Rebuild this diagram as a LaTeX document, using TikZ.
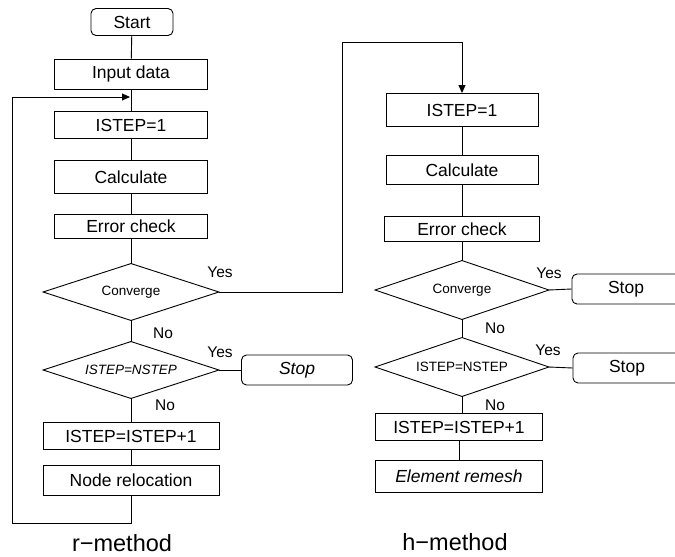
\documentclass[tikz,border=0pt]{standalone}
\usepackage{fontspec}
\setmainfont{Liberation Sans}
\usetikzlibrary{arrows.meta}
\begin{document}
\begin{tikzpicture}[x=1pt,y=-1pt,
  line width=0.9pt,
  box/.style={draw,rectangle,inner sep=0pt,font=\fontsize{17.5}{19}\selectfont},
  rbox/.style={box,rounded corners=5pt},
  dec/.style={rectangle,inner sep=0pt,minimum width=175pt,minimum height=56pt,font=\fontsize{13.5}{15}\selectfont},
  lab/.style={font=\fontsize{15.5}{17}\selectfont,inner sep=0pt},
  ttl/.style={font=\fontsize{23.5}{26}\selectfont,inner sep=0pt,anchor=base},
  arr/.style={-{Triangle[length=8pt,width=7pt]}}
]
\useasboundingbox (0,0) rectangle (675,557);
% ---------- left: r-method ----------
\node[rbox,minimum width=82pt,minimum height=27pt] (start) at (132,22) {Start};
\node[box,minimum width=153pt,minimum height=30pt] (inL) at (131,74) {Input data};
\node[box,minimum width=153pt,minimum height=27pt] (s1L) at (131,125) {ISTEP=1};
\node[box,minimum width=153pt,minimum height=33pt] (calcL) at (131,177) {Calculate};
\node[box,minimum width=153pt,minimum height=24pt] (errL) at (131,226) {Error check};
\node[dec] (convL) at (131,292) {Converge};
\node[dec] (nsL) at (131,370) {\itshape ISTEP=NSTEP};
\draw (convL.north) -- (convL.east) -- (convL.south) -- (convL.west) -- cycle;
\draw (nsL.north) -- (nsL.east) -- (nsL.south) -- (nsL.west) -- cycle;
\node[rbox,minimum width=111pt,minimum height=30pt] (stopL) at (297,370) {\itshape Stop};
\node[box,minimum width=176pt,minimum height=27pt] (incL) at (131,436) {ISTEP=ISTEP+1};
\node[box,minimum width=176pt,minimum height=30pt] (relL) at (131,480) {Node relocation};
\coordinate (jL) at (131,97);
\coordinate (lb) at (131,523);
\coordinate (ll) at (12,523);
\coordinate (lt) at (12,97);
\draw (start) -- (inL);
\draw (inL) -- (s1L);
\draw (s1L) -- (calcL);
\draw (calcL) -- (errL);
\draw (errL) -- (convL.north);
\draw (convL.south) -- (nsL.north);
\draw (nsL.south) -- (incL);
\draw (incL) -- (relL);
\draw (nsL.east) -- (stopL.west);
\draw[arr] (relL.south) -- (lb) -- (ll) -- (lt) -- ([xshift=-1pt]jL);
\node[lab] (yL1) at (220,272) {Yes};
\node[lab] (nL1) at (163,333) {No};
\node[lab] (yL2) at (220,352) {Yes};
\node[lab] (nL2) at (165,405) {No};
\node[ttl] (rm) at (122,551) {r−method};
% ---------- right: h-method ----------
\node[box,minimum width=152pt,minimum height=33pt] (s1R) at (462,110) {ISTEP=1};
\node[box,minimum width=152pt,minimum height=29pt] (calcR) at (462,170) {Calculate};
\node[box,minimum width=155pt,minimum height=25pt] (errR) at (462,229) {Error check};
\node[dec,minimum width=173pt,minimum height=58pt] (convR) at (462,290) {Converge};
\node[dec,minimum width=173pt,minimum height=58pt] (nsR) at (462,367) {ISTEP=NSTEP};
\draw (convR.north) -- (convR.east) -- (convR.south) -- (convR.west) -- cycle;
\draw (nsR.north) -- (nsR.east) -- (nsR.south) -- (nsR.west) -- cycle;
\node[rbox,minimum width=108pt,minimum height=30pt] (stopR1) at (626,289) {Stop};
\node[rbox,minimum width=108pt,minimum height=30pt] (stopR2) at (627,368) {Stop};
\node[box,minimum width=167pt,minimum height=27pt] (incR) at (459,427) {ISTEP=ISTEP+1};
\node[box,minimum width=167pt,minimum height=32pt] (remR) at (459,476) {\itshape Element remesh};
\coordinate (c1) at (342,292);
\coordinate (c2) at (342,42);
\coordinate (c3) at (462,42);
\draw[arr] (convL.east) -- (c1) -- (c2) -- (c3) -- (s1R.north);
\draw (s1R) -- (calcR);
\draw (calcR) -- (errR);
\draw (errR) -- (convR.north);
\draw (convR.south) -- (nsR.north);
\draw (nsR.south) -- (nsR.south |- incR.north);
\draw (incR) -- (remR);
\draw (convR.east) -- (stopR1.west);
\draw (nsR.east) -- (stopR2.west);
\node[lab] (yR1) at (549,273) {Yes};
\node[lab] (nR1) at (495,328) {No};
\node[lab] (yR2) at (548,350) {Yes};
\node[lab] (nR2) at (495,405) {No};
\node[ttl] (hm) at (455,550) {h−method};
\end{tikzpicture}
\end{document}
